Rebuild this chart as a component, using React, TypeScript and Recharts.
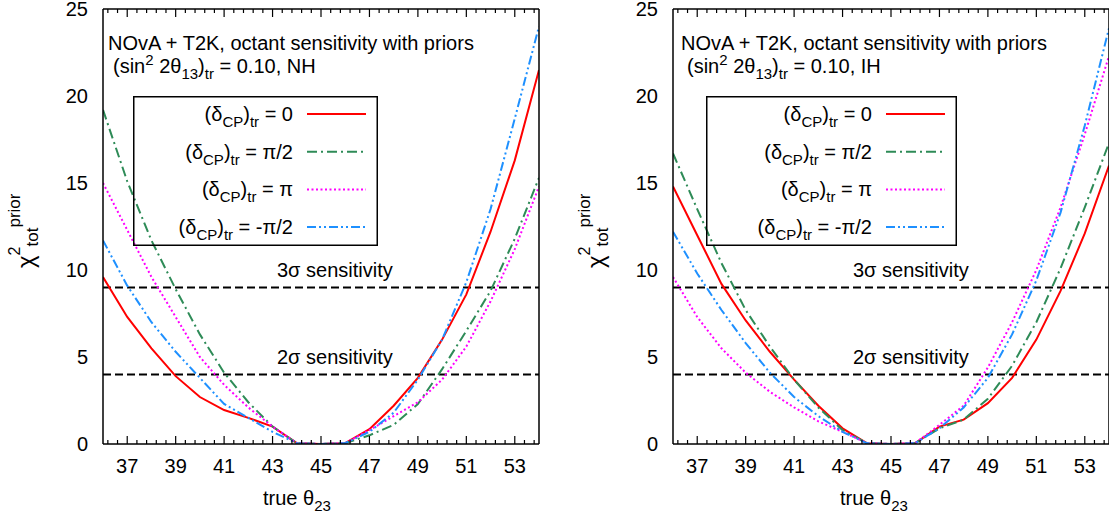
import { LineChart, Line, XAxis, YAxis, ReferenceLine, Legend } from "recharts";

const FONT = '"Liberation Sans", Arial, Helvetica, sans-serif';

// true theta23 (degrees)
const thetaTrue = [36, 37, 38, 39, 40, 41, 42, 43, 44, 45, 46, 47, 48, 49, 50, 51, 52, 53, 54];

// NH panel, chi^2 for each true delta_CP
const nhDelta0 = [9.6, 7.3, 5.5, 3.9, 2.7, 1.95, 1.5, 1.0, 0.05, 0, 0.05, 0.85, 2.2, 3.8, 6.0, 8.6, 12.2, 16.3, 21.5];
const nhDeltaHalfPi = [19.2, 15.1, 11.7, 8.9, 6.3, 4.1, 2.4, 1.0, 0.05, 0, 0.05, 0.5, 1.1, 2.3, 4.3, 6.5, 8.8, 11.8, 15.3];
const nhDeltaPi = [15.0, 12.3, 9.6, 7.3, 5.0, 3.4, 2.1, 1.0, 0.05, 0, 0.05, 0.8, 1.6, 2.4, 3.7, 5.6, 8.2, 11.2, 14.8];
const nhDeltaMinusHalfPi = [11.7, 9.1, 7.0, 5.3, 3.8, 2.3, 1.5, 0.7, 0.05, 0, 0.05, 0.7, 1.8, 3.7, 6.0, 9.3, 13.5, 18.7, 24.0];

// IH panel
const ihDelta0 = [14.8, 12.0, 9.2, 7.1, 5.3, 3.7, 2.2, 0.9, 0.05, 0, 0.05, 1.0, 1.4, 2.35, 3.8, 6.0, 8.8, 12.1, 16.0];
const ihDeltaHalfPi = [16.7, 13.5, 10.4, 7.7, 5.6, 3.7, 2.1, 0.8, 0.05, 0, 0.05, 0.9, 1.4, 2.6, 4.5, 7.0, 10.1, 13.6, 17.3];
const ihDeltaPi = [9.6, 7.3, 5.5, 4.1, 3.0, 2.1, 1.3, 0.7, 0.05, 0, 0.05, 1.1, 2.2, 4.4, 7.0, 10.0, 13.6, 17.8, 22.3];
const ihDeltaMinusHalfPi = [12.2, 9.8, 7.7, 5.8, 4.1, 2.7, 1.6, 0.7, 0.05, 0, 0.05, 0.9, 2.1, 3.8, 6.3, 9.4, 13.3, 18.3, 23.9];

const xTickLabels = [37, 39, 41, 43, 45, 47, 49, 51, 53];
const xAllTicks = [
  36.2, 36.6, 37, 37.4, 37.8, 38.2, 38.6, 39, 39.4, 39.8, 40.2, 40.6, 41, 41.4, 41.8, 42.2, 42.6, 43, 43.4, 43.8,
  44.2, 44.6, 45, 45.4, 45.8, 46.2, 46.6, 47, 47.4, 47.8, 48.2, 48.6, 49, 49.4, 49.8, 50.2, 50.6, 51, 51.4, 51.8,
  52.2, 52.6, 53, 53.4, 53.8,
];
const yTickLabels = [0, 5, 10, 15, 20, 25];
const yAllTicks = [0, 1, 2, 3, 4, 5, 6, 7, 8, 9, 10, 11, 12, 13, 14, 15, 16, 17, 18, 19, 20, 21, 22, 23, 24, 25];

const sigmaLevels = [
  { value: 9, label: "3σ sensitivity" },
  { value: 4, label: "2σ sensitivity" },
];

const deltaLabels = ["0", "π/2", "π", "-π/2"];

const seriesStyle = [
  { key: "d0", color: "#ff0000", dash: undefined as string | undefined },
  { key: "d1", color: "#2e8b57", dash: "10 4 2 4" },
  { key: "d2", color: "#ff00ff", dash: "2 2.5" },
  { key: "d3", color: "#1e90ff", dash: "9 3 2 3 2 3" },
];

const nhRows = thetaTrue.map((t, i) => ({
  theta: t,
  d0: nhDelta0[i],
  d1: nhDeltaHalfPi[i],
  d2: nhDeltaPi[i],
  d3: nhDeltaMinusHalfPi[i],
}));
const ihRows = thetaTrue.map((t, i) => ({
  theta: t,
  d0: ihDelta0[i],
  d1: ihDeltaHalfPi[i],
  d2: ihDeltaPi[i],
  d3: ihDeltaMinusHalfPi[i],
}));

type PanelCfg = {
  rows: typeof nhRows;
  hierarchy: string;
  width: number;
  plotLeft: number;
  titleX: number;
  title2X: number;
  legendX: number;
  legendW: number;
  sigmaX: number;
  xLabelX: number;
};

const PLOT_W = 436;
const domainX: [number, number] = [36, 54];
const domainY: [number, number] = [0, 25];
const frame = { stroke: "#000", strokeWidth: 1.5 };

// inward gnuplot-style ticks, long on labelled values
function tickMark(side: "top" | "bottom" | "left" | "right", majors: number[]) {
  return (p: any) => {
    const len = majors.includes(p.payload.value) ? 8 : 4;
    const { x, y } = p;
    let x2 = x;
    let y2 = y;
    if (side === "bottom") y2 = y - len;
    if (side === "top") y2 = y + len;
    if (side === "left") x2 = x + len;
    if (side === "right") x2 = x - len;
    return <line x1={x} y1={y} x2={x2} y2={y2} stroke="#000" strokeWidth={1.2} />;
  };
}

function LegendBox({ w }: { w: number }) {
  const textEnd = w - 85;
  return (
    <svg width={w} height={150} style={{ display: "block", fontFamily: FONT }}>
      <rect x={0.75} y={0.75} width={w - 1.5} height={148.5} fill="none" stroke="#000" strokeWidth={1.5} />
      {seriesStyle.map((s, i) => {
        const cy = 18 + i * 37.7;
        return (
          <g key={s.key}>
            <text x={textEnd} y={cy + 7} textAnchor="end" fontSize={20} fill="#000" style={{ whiteSpace: "pre" }}>
              (δ<tspan fontSize={15} dy={6}>CP</tspan>
              <tspan dy={-6}>)</tspan>
              <tspan fontSize={15} dy={6}>tr</tspan>
              <tspan dy={-6}>{" = " + deltaLabels[i]}</tspan>
            </text>
            <line
              x1={textEnd + 14}
              x2={textEnd + 73}
              y1={cy}
              y2={cy}
              stroke={s.color}
              strokeWidth={2}
              strokeDasharray={s.dash}
            />
          </g>
        );
      })}
    </svg>
  );
}

function Panel({ cfg }: { cfg: PanelCfg }) {
  const L = cfg.plotLeft;
  return (
    <LineChart
      width={cfg.width}
      height={520}
      data={cfg.rows}
      margin={{ top: 9, right: cfg.width - L - PLOT_W, bottom: 75, left: L - 1 }}
      style={{ fontFamily: FONT }}
    >
      <XAxis xAxisId="x" dataKey="theta" type="number" domain={domainX} allowDataOverflow ticks={xTickLabels}
        interval={0} height={1} tickSize={0} tickMargin={15} axisLine={false} tickLine={false}
        tick={{ fontSize: 20, fill: "#000" }} />
      <XAxis xAxisId="xb" dataKey="theta" type="number" domain={domainX} allowDataOverflow ticks={xAllTicks}
        interval={0} height={1} mirror tickSize={0} tickMargin={0} axisLine={frame} tickLine={false}
        tick={tickMark("bottom", xTickLabels)} />
      <XAxis xAxisId="xt" orientation="top" dataKey="theta" type="number" domain={domainX} allowDataOverflow
        ticks={xAllTicks} interval={0} height={1} mirror tickSize={0} tickMargin={0} axisLine={frame}
        tickLine={false} tick={tickMark("top", xTickLabels)} />

      <YAxis yAxisId="y" type="number" domain={domainY} allowDataOverflow ticks={yTickLabels} interval={0}
        width={1} tickSize={0} tickMargin={15} axisLine={false} tickLine={false}
        tick={{ fontSize: 20, fill: "#000" }} />
      <YAxis yAxisId="yl" type="number" domain={domainY} ticks={yAllTicks} interval={0} width={1} mirror
        tickSize={0} tickMargin={0} axisLine={frame} tickLine={false} tick={tickMark("left", yTickLabels)} />
      <YAxis yAxisId="yr" orientation="right" type="number" domain={domainY} ticks={yAllTicks} interval={0}
        width={1} mirror tickSize={0} tickMargin={0} axisLine={frame} tickLine={false}
        tick={tickMark("right", yTickLabels)} />

      {sigmaLevels.map((s) => (
        <ReferenceLine
          key={s.value}
          xAxisId="x"
          yAxisId="y"
          y={s.value}
          stroke="#000"
          strokeWidth={2}
          strokeDasharray="8 4"
          label={(p: any) => (
            <text x={p.viewBox.x + cfg.sigmaX} y={p.viewBox.y - 10} fontSize={20} fill="#000" fontFamily={FONT}>
              {s.label}
            </text>
          )}
        />
      ))}

      {seriesStyle.map((s) => (
        <Line
          key={s.key}
          xAxisId="x"
          yAxisId="y"
          dataKey={s.key}
          type="linear"
          stroke={s.color}
          strokeWidth={2}
          strokeDasharray={s.dash}
          dot={false}
          isAnimationActive={false}
        />
      ))}

      <Legend
        layout="vertical"
        align="center"
        verticalAlign="middle"
        wrapperStyle={{ left: L + cfg.legendX, top: 96, width: cfg.legendW, height: 150 }}
        content={() => <LegendBox w={cfg.legendW} />}
      />

      <text x={L + cfg.titleX} y={50} fontSize={20} fill="#000" fontFamily={FONT}>
        NOvA + T2K, octant sensitivity with priors
      </text>
      <text x={L + cfg.title2X} y={73} fontSize={20} fill="#000" fontFamily={FONT} style={{ whiteSpace: "pre" }}>
        (sin<tspan fontSize={15} dy={-8}>2</tspan>
        <tspan dy={8}>{" 2θ"}</tspan>
        <tspan fontSize={15} dy={6}>13</tspan>
        <tspan dy={-6}>)</tspan>
        <tspan fontSize={15} dy={6}>tr</tspan>
        <tspan dy={-6}>{" = 0.10, " + cfg.hierarchy}</tspan>
      </text>

      <text x={L + cfg.xLabelX} y={505} fontSize={20} fill="#000" fontFamily={FONT} style={{ whiteSpace: "pre" }}>
        true θ<tspan fontSize={15} dy={6}>23</tspan>
      </text>

      <text transform={`translate(${L - 69}, 268) rotate(-90)`} fontSize={20} fill="#000" fontFamily={FONT}>
        <tspan fontSize={24}>χ</tspan>
        <tspan fontSize={16} dy={-14}>2</tspan>
        <tspan fontSize={17} dy={18}>tot</tspan>
        <tspan fontSize={17} dy={-18}>prior</tspan>
      </text>
    </LineChart>
  );
}

const nhCfg: PanelCfg = {
  rows: nhRows,
  hierarchy: "NH",
  width: 560,
  plotLeft: 103,
  titleX: 5,
  title2X: 10,
  legendX: 30,
  legendW: 245,
  sigmaX: 174,
  xLabelX: 160,
};

const ihCfg: PanelCfg = {
  rows: ihRows,
  hierarchy: "IH",
  width: 549,
  plotLeft: 113,
  titleX: 8,
  title2X: 14,
  legendX: 33,
  legendW: 251,
  sigmaX: 180,
  xLabelX: 167,
};

export default function App() {
  return (
    <div style={{ position: "absolute", left: 0, top: 0, width: 1109, height: 520, background: "#fff" }}>
      <div style={{ position: "absolute", left: 0, top: 0 }}>
        <Panel cfg={nhCfg} />
      </div>
      <div style={{ position: "absolute", left: 560, top: 0 }}>
        <Panel cfg={ihCfg} />
      </div>
    </div>
  );
}
